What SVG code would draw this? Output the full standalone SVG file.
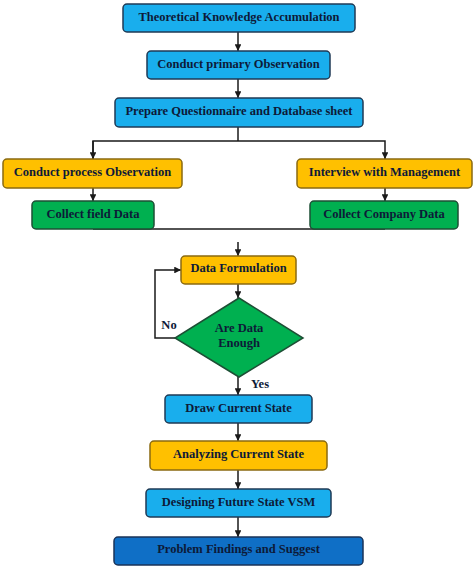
<svg xmlns="http://www.w3.org/2000/svg" width="474" height="567" viewBox="0 0 474 567">
<defs>
<style>
.box{stroke-width:1.5}
.blue{fill:#19aeed;stroke:#1f3a55}
.orange{fill:#ffc000;stroke:#8a6a10}
.green{fill:#00b050;stroke:#1d4f35}
.dblue{fill:#0f6fc6;stroke:#1a3358}
.t{font-family:"Liberation Serif","Times New Roman",serif;font-weight:bold;font-size:12.5px;fill:#0d1a38;text-anchor:middle}
.c{fill:none;stroke:#1a1a1a;stroke-width:1.5}
</style>
<marker id="ah" viewBox="0 0 10 10" refX="10" refY="5" markerWidth="4.5" markerHeight="4.5" orient="auto" markerUnits="strokeWidth">
<path d="M0,0 L10,5 L0,10 z" fill="#1a1a1a"/>
</marker>
</defs>
<g id="connectors">
<line class="c" x1="238" y1="32" x2="238" y2="51" marker-end="url(#ah)"/>
<line class="c" x1="238" y1="79" x2="238" y2="98" marker-end="url(#ah)"/>
<line class="c" x1="238" y1="127" x2="238" y2="141"/>
<polyline class="c" points="93,159 93,141 385,141 385,159" marker-end="url(#ah)"/>
<line class="c" x1="93" y1="141" x2="93" y2="159" marker-end="url(#ah)"/>
<line class="c" x1="93" y1="188" x2="93" y2="201" marker-end="url(#ah)"/>
<line class="c" x1="385" y1="188" x2="385" y2="201" marker-end="url(#ah)"/>
<line class="c" x1="93" y1="229" x2="385" y2="229"/>
<line class="c" x1="238" y1="242" x2="238" y2="256" marker-end="url(#ah)"/>
<line class="c" x1="238" y1="284" x2="238" y2="298" marker-end="url(#ah)"/>
<polyline class="c" points="175,338 155,338 155,270 181,270" marker-end="url(#ah)"/>
<line class="c" x1="238" y1="377" x2="238" y2="395" marker-end="url(#ah)"/>
<line class="c" x1="238" y1="423" x2="238" y2="441" marker-end="url(#ah)"/>
<line class="c" x1="238" y1="470" x2="238" y2="489" marker-end="url(#ah)"/>
<line class="c" x1="238" y1="517" x2="238" y2="537" marker-end="url(#ah)"/>
</g>
<g id="n1"><rect class="box blue" x="123" y="4" width="232" height="28" rx="4"/><text class="t" x="239" y="21">Theoretical  Knowledge  Accumulation</text></g>
<g id="n2"><rect class="box blue" x="147" y="51" width="183" height="28" rx="4"/><text class="t" x="238.5" y="68">Conduct primary  Observation</text></g>
<g id="n3"><rect class="box blue" x="115" y="98" width="248" height="29" rx="4"/><text class="t" x="239" y="115">Prepare Questionnaire and Database sheet</text></g>
<g id="n4"><rect class="box orange" x="3" y="159" width="179" height="29" rx="4"/><text class="t" x="92.5" y="175.5">Conduct process  Observation</text></g>
<g id="n5"><rect class="box orange" x="297" y="159" width="175" height="29" rx="4"/><text class="t" x="384.5" y="175.5">Interview  with  Management</text></g>
<g id="n6"><rect class="box green" x="32" y="201" width="122" height="28" rx="4"/><text class="t" x="93" y="217.5">Collect  field Data</text></g>
<g id="n7"><rect class="box green" x="310" y="201" width="148" height="28" rx="4"/><text class="t" x="384" y="217.5">Collect  Company  Data</text></g>
<g id="n8"><rect class="box orange" x="181" y="256" width="115" height="28" rx="4"/><text class="t" x="238.5" y="272">Data Formulation</text></g>
<g id="n9"><polygon class="box green" points="239,298 303,338 239,377 175,338"/><text class="t" x="239" y="332">Are Data</text><text class="t" x="239" y="346.5">Enough</text></g>
<g id="labels"><text class="t" x="169" y="329">No</text><text class="t" x="260" y="388">Yes</text></g>
<g id="n10"><rect class="box blue" x="165" y="395" width="147" height="28" rx="4"/><text class="t" x="238.5" y="411.5">Draw Current State</text></g>
<g id="n11"><rect class="box orange" x="150" y="441" width="177" height="29" rx="4"/><text class="t" x="238.5" y="458">Analyzing Current State</text></g>
<g id="n12"><rect class="box blue" x="146" y="489" width="185" height="28" rx="4"/><text class="t" x="238.5" y="505.5">Designing Future State VSM</text></g>
<g id="n13"><rect class="box dblue" x="114" y="537" width="249" height="28" rx="4"/><text class="t" x="238.5" y="553">Problem Findings and Suggest</text></g>
</svg>
